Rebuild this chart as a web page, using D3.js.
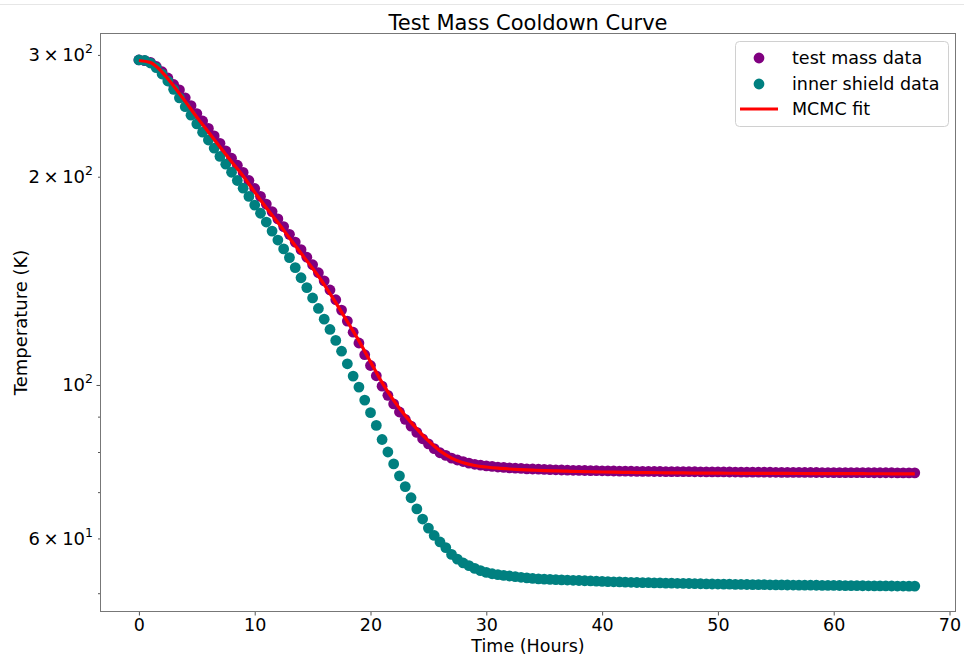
<!DOCTYPE html>
<html>
<head>
<meta charset="utf-8">
<script src="https://cdn.jsdelivr.net/npm/d3@7"></script>
<style>
  html, body { margin: 0; padding: 0; background: #fff; }
  svg { display: block; font-family: "DejaVu Sans", sans-serif; }
</style>
</head>
<body>
<svg id="chart" width="964" height="656"></svg>
<script>
// Sample times (hours since start of cooldown)
const hours = [
  0, 0.5, 1, 1.5, 2, 2.5, 3, 3.5, 4, 4.5, 5, 5.5, 6, 6.5, 7, 7.5, 8, 8.5, 9, 9.5,
  10, 10.5, 11, 11.5, 12, 12.5, 13, 13.5, 14, 14.5, 15, 15.5, 16, 16.5, 17, 17.5, 18, 18.5, 19, 19.5,
  20, 20.5, 21, 21.5, 22, 22.5, 23, 23.5, 24, 24.5, 25, 25.5, 26, 26.5, 27, 27.5, 28, 28.5, 29, 29.5,
  30, 30.5, 31, 31.5, 32, 32.5, 33, 33.5, 34, 34.5, 35, 35.5, 36, 36.5, 37, 37.5, 38, 38.5, 39, 39.5,
  40, 40.5, 41, 41.5, 42, 42.5, 43, 43.5, 44, 44.5, 45, 45.5, 46, 46.5, 47, 47.5, 48, 48.5, 49, 49.5,
  50, 50.5, 51, 51.5, 52, 52.5, 53, 53.5, 54, 54.5, 55, 55.5, 56, 56.5, 57, 57.5, 58, 58.5, 59, 59.5,
  60, 60.5, 61, 61.5, 62, 62.5, 63, 63.5, 64, 64.5, 65, 65.5, 66, 66.5, 67
];

// Test mass temperature (K)
const testMass = [
  295.0, 294.3, 292.6, 288.7, 283.7, 277.8, 271.9, 267.0, 260.1, 253.4, 246.8, 240.8, 234.9, 229.1, 223.5, 218.0, 212.7, 207.8, 202.9, 197.5,
  192.3, 187.3, 182.6, 178.1, 173.8, 169.4, 165.1, 160.9, 156.9, 153.0, 149.2, 145.3, 141.4, 137.2, 132.8, 128.3, 123.7, 119.2, 115.0, 110.6,
  106.7, 103.1, 99.6, 96.6, 93.9, 91.4, 89.2, 87.2, 85.4, 83.6, 82.2, 80.9, 79.8, 79.1, 78.4, 77.9, 77.5, 77.1, 76.8, 76.6,
  76.4, 76.25, 76.1, 76.0, 75.9, 75.8, 75.75, 75.65, 75.6, 75.55, 75.5, 75.45, 75.4, 75.35, 75.3, 75.28, 75.25, 75.22, 75.2, 75.17,
  75.15, 75.12, 75.1, 75.08, 75.06, 75.04, 75.02, 75.0, 74.99, 74.98, 74.97, 74.96, 74.95, 74.94, 74.93, 74.92, 74.91, 74.9, 74.89, 74.88,
  74.87, 74.86, 74.85, 74.84, 74.83, 74.82, 74.81, 74.8, 74.8, 74.79, 74.78, 74.77, 74.77, 74.76, 74.75, 74.74, 74.74, 74.73, 74.72, 74.72,
  74.71, 74.7, 74.7, 74.69, 74.69, 74.68, 74.68, 74.67, 74.67, 74.66, 74.66, 74.65, 74.65, 74.64, 74.64
];

// Inner shield temperature (K)
const innerShield = [
  295.0, 294.6, 292.0, 287.5, 281.5, 275.0, 267.5, 260.0, 252.5, 245.5, 238.5, 232.0, 226.0, 220.0, 214.0, 208.5, 203.0, 197.5, 192.5, 187.3,
  182.0, 177.1, 172.0, 166.9, 162.0, 157.3, 152.8, 147.8, 142.9, 138.3, 133.6, 129.0, 124.5, 120.3, 116.0, 111.9, 107.3, 103.0, 99.3, 95.1,
  91.2, 87.4, 83.4, 80.0, 76.9, 73.9, 71.3, 68.7, 66.2, 64.0, 62.1, 60.6, 59.3, 58.2, 56.9, 56.0, 55.3, 54.8, 54.3, 53.9,
  53.6, 53.35, 53.2, 53.07, 52.95, 52.83, 52.72, 52.62, 52.52, 52.45, 52.4, 52.36, 52.32, 52.28, 52.24, 52.2, 52.16, 52.12, 52.08, 52.04,
  52.0, 51.97, 51.94, 51.91, 51.88, 51.85, 51.82, 51.8, 51.78, 51.76, 51.74, 51.72, 51.7, 51.68, 51.66, 51.64, 51.62, 51.6, 51.58, 51.56,
  51.55, 51.53, 51.52, 51.5, 51.49, 51.47, 51.46, 51.45, 51.44, 51.42, 51.41, 51.4, 51.39, 51.38, 51.37, 51.36, 51.35, 51.34, 51.33, 51.32,
  51.31, 51.3, 51.29, 51.28, 51.27, 51.26, 51.25, 51.24, 51.24, 51.23, 51.22, 51.21, 51.21, 51.2, 51.2
];

// MCMC fit evaluated hourly
const fitHours = [
  0, 1, 2, 3, 4, 5, 6, 7, 8, 9, 10, 11, 12, 13, 14, 15, 16, 17, 18, 19,
  20, 21, 22, 23, 24, 25, 26, 27, 28, 29, 30, 31, 32, 33, 34, 35, 36, 37, 38, 39,
  40, 41, 42, 43, 44, 45, 46, 47, 48, 49, 50, 51, 52, 53, 54, 55, 56, 57, 58, 59,
  60, 61, 62, 63, 64, 65, 66, 67
];
const fitTemp = [
  294.5, 292.4, 283.4, 270.6, 257.0, 243.9, 232.1, 220.8, 210.2, 200.5, 190.0, 180.4, 171.7, 163.1, 155.0, 147.4, 139.7, 131.5, 123.5, 115.8,
  108.0, 100.8, 95.0, 90.3, 86.4, 83.0, 80.3, 78.4, 77.2, 76.5, 76.1, 75.8, 75.6, 75.45, 75.32, 75.2, 75.12, 75.05, 74.98, 74.91,
  74.85, 74.8, 74.76, 74.72, 74.69, 74.66, 74.63, 74.61, 74.59, 74.57, 74.55, 74.54, 74.53, 74.52, 74.51, 74.5, 74.49, 74.48, 74.47, 74.46,
  74.45, 74.44, 74.43, 74.42, 74.42, 74.41, 74.41, 74.4
];

// Axis ticks
const xTicks = [0, 10, 20, 30, 40, 50, 60, 70];
const yMajorTicks = [100];
const yMinorTicks = [50, 60, 70, 80, 90, 200, 300];
const yLabelTicks = [60, 100, 200, 300];

const seriesNames = ["test mass data", "inner shield data", "MCMC fit"];
const colors = { testMass: "#800080", innerShield: "#008080", fit: "#ff0000" };

const W = 964, H = 656;
const margin = { top: 33, right: 8, bottom: 44, left: 100 };
const svg = d3.select("#chart");

const x = d3.scaleLinear().domain([-3.36, 70.56]).range([margin.left, W - margin.right]);
const y = d3.scaleLog().domain([46.97, 322.7]).range([H - margin.bottom, margin.top]);

// faint rule along the top of the page
svg.append("line").attr("x1", 0).attr("x2", W).attr("y1", 4.5).attr("y2", 4.5)
  .attr("stroke", "#e6e6e6").attr("stroke-width", 1);

// Title
svg.append("text").attr("x", (margin.left + W - margin.right) / 2).attr("y", 29.5)
  .attr("text-anchor", "middle").attr("font-size", 21).attr("fill", "#000")
  .text("Test Mass Cooldown Curve");

// Data
const dotR = 5.4;
svg.append("g").selectAll("circle").data(hours).join("circle")
  .attr("cx", (d) => x(d)).attr("cy", (d, i) => y(testMass[i])).attr("r", dotR)
  .attr("fill", colors.testMass);
svg.append("g").selectAll("circle").data(hours).join("circle")
  .attr("cx", (d) => x(d)).attr("cy", (d, i) => y(innerShield[i])).attr("r", dotR)
  .attr("fill", colors.innerShield);

const fitLine = d3.line().x((d) => x(d)).y((d, i) => y(fitTemp[i])).curve(d3.curveMonotoneX);
svg.append("path").datum(fitHours).attr("d", fitLine)
  .attr("fill", "none").attr("stroke", colors.fit).attr("stroke-width", 3.2)
  .attr("stroke-linejoin", "round").attr("stroke-linecap", "butt");

// Axes
const axisColor = "#555";
const xAxis = svg.append("g").attr("transform", `translate(0,${H - margin.bottom})`)
  .call(d3.axisBottom(x).tickValues(xTicks).tickSize(3.5).tickPadding(3).tickFormat(d3.format("d")));
xAxis.select(".domain").remove();
xAxis.selectAll("line").attr("stroke", axisColor);
xAxis.selectAll("text").attr("font-size", 17.5).attr("fill", "#000").attr("font-family", "DejaVu Sans, sans-serif");

const yMajor = svg.append("g").attr("transform", `translate(${margin.left},0)`)
  .call(d3.axisLeft(y).tickValues(yMajorTicks).tickSize(3.5).tickFormat(""));
const yMinor = svg.append("g").attr("transform", `translate(${margin.left},0)`)
  .call(d3.axisLeft(y).tickValues(yMinorTicks).tickSize(2).tickFormat(""));
[yMajor, yMinor].forEach((g) => { g.select(".domain").remove(); g.selectAll("line").attr("stroke", axisColor); });

// log tick labels in "m × 10^e" form
const yLab = svg.append("g");
yLabelTicks.forEach((v) => {
  const e = Math.floor(Math.log10(v) + 1e-9);
  const m = Math.round(v / Math.pow(10, e));
  const t = yLab.append("text").attr("x", margin.left - 7).attr("y", y(v) + 6.5)
    .attr("text-anchor", "end").attr("font-size", 18).attr("fill", "#000");
  t.append("tspan").text(m === 1 ? "10" : `${m}\u2009×\u200910`);
  t.append("tspan").attr("font-size", 12.5).attr("dy", -8).text(e);
});

// Frame
svg.append("rect").attr("x", margin.left + 0.5).attr("y", margin.top + 0.5)
  .attr("width", W - margin.left - margin.right - 1).attr("height", H - margin.top - margin.bottom - 1)
  .attr("fill", "none").attr("stroke", "#777").attr("stroke-width", 1);

// Axis labels
svg.append("text").attr("x", (margin.left + W - margin.right) / 2).attr("y", 652)
  .attr("text-anchor", "middle").attr("font-size", 17.5).attr("fill", "#000").text("Time (Hours)");
svg.append("text").attr("transform", `translate(27,${(margin.top + H - margin.bottom) / 2}) rotate(-90)`)
  .attr("text-anchor", "middle").attr("font-size", 18).attr("fill", "#000").text("Temperature (K)");

// Legend
const lg = svg.append("g").attr("transform", "translate(735,41)");
lg.append("rect").attr("x", 0.5).attr("y", 0.5).attr("width", 213).attr("height", 85).attr("rx", 4)
  .attr("fill", "#fff").attr("fill-opacity", 0.8).attr("stroke", "#d0d0d0");
const rows = [17, 43, 68];
lg.append("circle").attr("cx", 24).attr("cy", rows[0]).attr("r", dotR).attr("fill", colors.testMass);
lg.append("circle").attr("cx", 24).attr("cy", rows[1]).attr("r", dotR).attr("fill", colors.innerShield);
lg.append("line").attr("x1", 5).attr("x2", 43).attr("y1", rows[2]).attr("y2", rows[2])
  .attr("stroke", colors.fit).attr("stroke-width", 3.2);
seriesNames.forEach((name, i) => {
  lg.append("text").attr("x", 57).attr("y", rows[i] + 6).attr("font-size", 17.5).attr("fill", "#000").text(name);
});
</script>
</body>
</html>
